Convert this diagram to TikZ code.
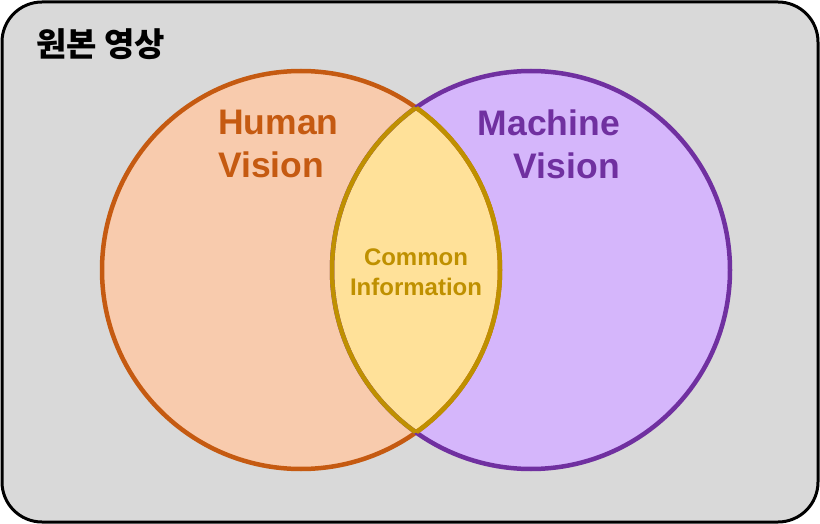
\documentclass[tikz,border=0pt]{standalone}
\usepackage{fontspec}
\setmainfont{Liberation Sans}
\newfontfamily\cjk{Noto Sans CJK KR}
\begin{document}
\begin{tikzpicture}[x=1pt,y=-1pt,
  lbl/.style={font=\bfseries\fontsize{35.5}{43}\selectfont}]
\definecolor{bg}{HTML}{D9D9D9}
\definecolor{hf}{HTML}{F8CBAD}\definecolor{hs}{HTML}{C55A11}
\definecolor{mf}{HTML}{D5B6FB}\definecolor{ms}{HTML}{7030A0}
\definecolor{cf}{HTML}{FFE199}\definecolor{cs}{HTML}{BF9000}
\useasboundingbox (0,0) rectangle (820,524);
\draw[line width=3pt,fill=bg,rounded corners=40pt] (2,2) rectangle (818,522);
\node[font=\cjk\bfseries\fontsize{33}{36}\selectfont,anchor=west,inner sep=0pt] (t) at (36,44) {원본 영상};
\fill[hf] (301,270) circle (199);
\fill[mf] (531,270) circle (199);
\begin{scope}\clip (301,270) circle (199);
\fill[cf] (531,270) circle (199);\end{scope}
\draw[hs,line width=4.5pt] (301,270) circle (199);
\draw[ms,line width=4.5pt] (531,270) circle (199);
\begin{scope}\clip (301,270) circle (199);
\draw[cs,line width=4.5pt] (531,270) circle (199);\end{scope}
\begin{scope}\clip (531,270) circle (199);
\draw[cs,line width=4.5pt] (301,270) circle (199);\end{scope}
\node[lbl,text=hs,align=left,anchor=west,inner sep=0pt] (h) at (218,144) {Human\\Vision};
\node[lbl,text=ms,align=right,anchor=east,inner sep=0pt] (m) at (620,144) {Machine\\Vision};
\node[font=\bfseries\fontsize{24}{30}\selectfont,align=center,text=cs] (c) at (416,272) {Common\\Information};
\end{tikzpicture}
\end{document}
